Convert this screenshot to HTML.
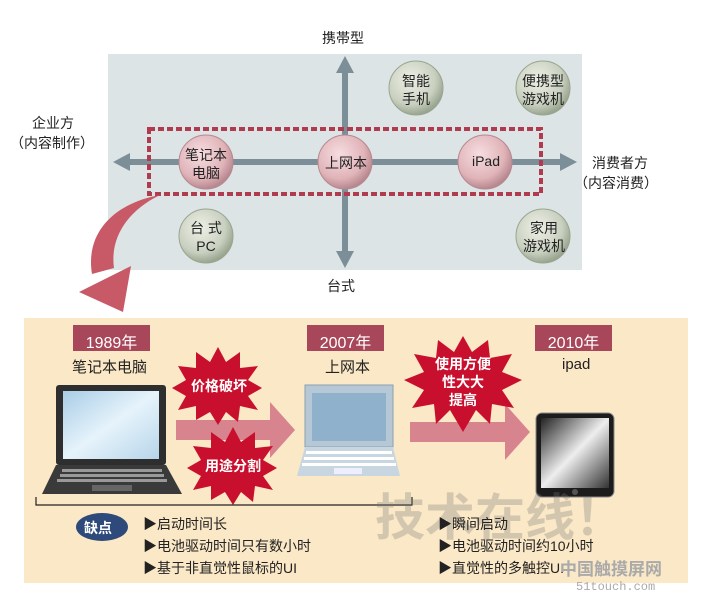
<!DOCTYPE html>
<html><head><meta charset="utf-8"><style>
body{margin:0;width:702px;height:601px;background:#fff;position:relative;overflow:hidden;font-family:"Liberation Sans","Noto Sans CJK SC",sans-serif;}
.a{position:absolute;}
</style></head><body>
<svg class="a" style="left:0;top:0" width="702" height="601" viewBox="0 0 702 601">
<defs>
<radialGradient id="gg" cx="40%" cy="35%" r="65%"><stop offset="0" stop-color="#eef0e6"/><stop offset="0.7" stop-color="#c9d0c0"/><stop offset="1" stop-color="#9aa590"/></radialGradient>
<radialGradient id="pg" cx="40%" cy="35%" r="65%"><stop offset="0" stop-color="#f6dde0"/><stop offset="0.7" stop-color="#e0b4b9"/><stop offset="1" stop-color="#b88890"/></radialGradient>
<linearGradient id="scr" x1="0" y1="0" x2="1" y2="1"><stop offset="0" stop-color="#a9cde6"/><stop offset="0.5" stop-color="#e6f3fb"/><stop offset="1" stop-color="#b6d5ea"/></linearGradient>
<linearGradient id="ips" x1="0" y1="0" x2="1" y2="1"><stop offset="0" stop-color="#222"/><stop offset="0.5" stop-color="#eee"/><stop offset="1" stop-color="#333"/></linearGradient>
</defs>
<rect x="108" y="54" width="474" height="216" fill="#dde4e6"/>
<g fill="#7c8f99" stroke="#7c8f99">
<line x1="125" y1="162" x2="565" y2="162" stroke-width="6"/>
<polygon points="113,162 130,153 130,171" stroke="none"/>
<polygon points="577,162 560,153 560,171" stroke="none"/>
<line x1="345" y1="70" x2="345" y2="255" stroke-width="6"/>
<polygon points="345,56 336,73 354,73" stroke="none"/>
<polygon points="345,268 336,251 354,251" stroke="none"/>
</g>
<rect x="149" y="129" width="392" height="65" fill="none" stroke="#b03a4e" stroke-width="4" stroke-dasharray="6,3"/>
<g stroke="#9aa590" stroke-width="1">
<circle cx="416" cy="88" r="27" fill="url(#gg)"/>
<circle cx="543" cy="88" r="27" fill="url(#gg)"/>
<circle cx="206" cy="236" r="27" fill="url(#gg)"/>
<circle cx="543" cy="236" r="27" fill="url(#gg)"/>
</g>
<g stroke="#b88890" stroke-width="1">
<circle cx="206" cy="162" r="27" fill="url(#pg)"/>
<circle cx="345" cy="162" r="27" fill="url(#pg)"/>
<circle cx="485" cy="162" r="27" fill="url(#pg)"/>
</g>
<path d="M160,195 C115,203 85,232 92,274 L114,268 C110,240 125,212 160,195 Z" fill="#c85a68"/>
<polygon points="79,292 131,266 123,312" fill="#c85a68"/>
<rect x="24" y="318" width="664" height="265" fill="#fbe8c6"/>
<rect x="73" y="325" width="77" height="26" fill="#a8475a"/>
<rect x="307" y="325" width="77" height="26" fill="#a8475a"/>
<rect x="535" y="325" width="77" height="26" fill="#a8475a"/>
<rect x="176" y="420" width="96" height="20" fill="#d8848e"/>
<polygon points="270,402 295,430 270,458" fill="#d8848e"/>
<rect x="410" y="422" width="100" height="20" fill="#d8848e"/>
<polygon points="505,404 530,432 505,460" fill="#d8848e"/>
<rect x="56" y="385" width="110" height="80" rx="3" fill="#2e2e2e"/>
<rect x="63" y="391" width="96" height="68" fill="url(#scr)"/>
<polygon points="56,465 166,465 182,494 42,494" fill="#3a3a3a"/>
<g fill="#999"><rect x="62" y="469" width="100" height="3"/><rect x="60" y="474" width="104" height="3"/><rect x="57" y="479" width="110" height="3"/></g>
<rect x="92" y="485" width="40" height="6" fill="#666"/>
<rect x="305" y="385" width="88" height="62" fill="#b6c8d6" stroke="#8aa0b2"/>
<rect x="312" y="393" width="74" height="48" fill="#8fb1cc"/>
<polygon points="305,447 393,447 400,476 297,476" fill="#c8d6e2"/>
<g fill="#fff"><rect x="306" y="451" width="86" height="3"/><rect x="304" y="457" width="90" height="3"/><rect x="302" y="463" width="94" height="3"/></g>
<rect x="334" y="468" width="28" height="6" fill="#eef"/>
<rect x="536" y="413" width="78" height="84" rx="6" fill="#1c1c1c" stroke="#888"/>
<rect x="541" y="418" width="68" height="70" fill="url(#ips)"/>
<circle cx="575" cy="492" r="3" fill="#555"/>
<polygon fill="#c8102e" points="218,347 226,362 240,352 240,368 258,366 248,380 262,388 248,396 258,410 240,406 238,422 226,412 218,425 210,412 196,420 196,406 178,410 186,396 172,388 186,380 178,366 196,368 196,352 210,362"/>
<polygon fill="#c8102e" points="233,427 241,442 255,432 255,448 273,446 263,460 277,468 263,476 273,490 255,486 253,502 241,492 233,505 225,492 211,500 211,486 193,490 201,476 187,468 201,460 193,446 211,448 211,432 225,442"/>
<polygon fill="#c8102e" points="463,336 472,352 488,340 490,358 512,354 502,372 522,380 502,390 514,408 492,404 490,424 476,410 463,432 450,410 436,424 434,404 412,408 424,390 404,380 424,372 414,354 436,358 438,340 454,352"/>
<path d="M36,497 V505 H412 V497" fill="none" stroke="#222" stroke-width="1.2"/>
<ellipse cx="102" cy="527" rx="26" ry="14" fill="#2e4a7a"/>
</svg>
<div class="a" style="left:0;top:0;width:702px;height:601px;font-size:14px;color:#222">
<div class="a" style="left:322px;top:28px">携帯型</div>
<div class="a" style="left:327px;top:276px">台式</div>
<div class="a" style="left:32px;top:113px">企业方</div>
<div class="a" style="left:10px;top:133px">（内容制作）</div>
<div class="a" style="left:592px;top:153px">消费者方</div>
<div class="a" style="left:574px;top:173px">（内容消费）</div>
<div class="a" style="left:396px;top:72px;width:40px;text-align:center;line-height:18px">智能<br>手机</div>
<div class="a" style="left:513px;top:72px;width:60px;text-align:center;line-height:18px">便携型<br>游戏机</div>
<div class="a" style="left:178px;top:219px;width:56px;text-align:center;line-height:18px">台 式<br>PC</div>
<div class="a" style="left:516px;top:219px;width:56px;text-align:center;line-height:18px">家用<br>游戏机</div>
<div class="a" style="left:176px;top:146px;width:60px;text-align:center;line-height:18px">笔记本<br>电脑</div>
<div class="a" style="left:318px;top:153px;width:56px;text-align:center">上网本</div>
<div class="a" style="left:458px;top:153px;width:56px;text-align:center">iPad</div>
<div class="a" style="left:73px;top:329px;width:77px;text-align:center;color:#fff;font-size:16px">1989年</div>
<div class="a" style="left:307px;top:329px;width:77px;text-align:center;color:#fff;font-size:16px">2007年</div>
<div class="a" style="left:535px;top:329px;width:77px;text-align:center;color:#fff;font-size:16px">2010年</div>
<div class="a" style="left:72px;top:356px;font-size:15px">笔记本电脑</div>
<div class="a" style="left:325px;top:356px;font-size:15px">上网本</div>
<div class="a" style="left:562px;top:356px;font-size:15px">ipad</div>
<div class="a" style="left:184px;top:376px;width:70px;text-align:center;color:#fff;font-weight:bold">价格破坏</div>
<div class="a" style="left:198px;top:456px;width:70px;text-align:center;color:#fff;font-weight:bold">用途分割</div>
<div class="a" style="left:428px;top:355px;width:70px;text-align:center;color:#fff;font-weight:bold;line-height:18px">使用方便<br>性大大<br>提高</div>
<div class="a" style="left:375px;top:478px;font-size:50px;color:rgba(120,120,120,0.3);font-weight:bold">技术在线！</div>
<div class="a" style="left:84px;top:518px;color:#fff;font-weight:bold">缺点</div>
<div class="a" style="left:143px;top:513px;line-height:22px">▶启动时间长<br>▶电池驱动时间只有数小时<br>▶基于非直觉性鼠标的UI</div>
<div class="a" style="left:438px;top:513px;line-height:22px">▶瞬间启动<br>▶电池驱动时间约10小时<br>▶直觉性的多触控UI</div>
<div class="a" style="left:560px;top:555px;font-size:17px;color:#aaa;font-weight:bold">中国触摸屏网</div>
<div class="a" style="left:576px;top:580px;font-size:12px;color:#aaa;font-family:'Liberation Mono',monospace">51touch.com</div>
</div>
</body></html>
